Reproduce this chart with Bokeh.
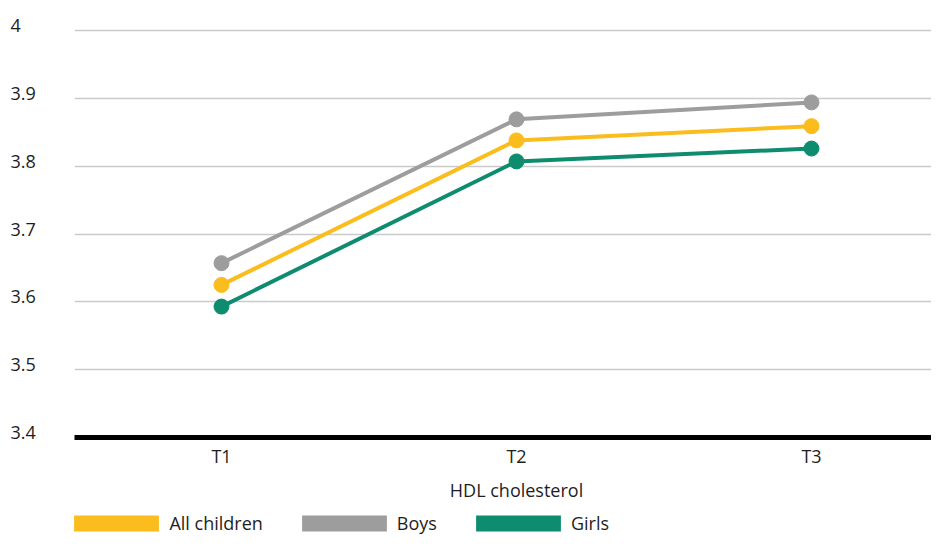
from bokeh.plotting import figure
from bokeh.layouts import row, column
from bokeh.models import Range1d, FixedTicker, Legend, LegendItem, Label
from bokeh.embed import file_html
from bokeh.resources import INLINE

# ---- data ----
periods = ["T1", "T2", "T3"]
period_pos = [1, 2, 3]
all_children = [3.625, 3.838, 3.859]
boys = [3.657, 3.869, 3.894]
girls = [3.593, 3.807, 3.826]
y_ticks = [3.4, 3.5, 3.6, 3.7, 3.8, 3.9, 4.0]
y_tick_labels = ["3.4", "3.5", "3.6", "3.7", "3.8", "3.9", "4"]
x_title = "HDL cholesterol"
series_names = ["All children", "Boys", "Girls"]
series_colors = ["#FBBC1E", "#9D9D9D", "#0E8C6F"]
series_values = [all_children, boys, girls]

# ---- layout constants (pixels) ----
FONT = "Open Sans"
FS = "18px"
TXT = "#1e1e1e"
TOTAL_W, TOTAL_H = 931, 536
LEFT_W = 74                 # width of the y-label column
MAIN_H = 470                # height of main chart figure
TOP_PAD = 28                # canvas top -> frame top
Y_LO, Y_HI = 3.4, 4.0
PX_PER_UNIT = 407 / (Y_HI - Y_LO)
Y_TOP_EXTRA = 2 / PX_PER_UNIT          # keep top gridline fully visible
FRAME_BOTTOM = TOP_PAD + 409           # = 437
PX_PER_CAT = 295
FIRST_CAT_PX = 147
FRAME_W = TOTAL_W - LEFT_W

# legend swatch: bokeh insets area glyphs by 10% on each side
GLYPH_W, GLYPH_H = 106, 20
INSET_X = 0.1 * GLYPH_W

x_start = period_pos[0] - FIRST_CAT_PX / PX_PER_CAT
x_range = Range1d(x_start, x_start + FRAME_W / PX_PER_CAT)

# ---- main chart ----
p = figure(width=FRAME_W, height=MAIN_H, x_range=x_range,
           y_range=Range1d(Y_LO, Y_HI + Y_TOP_EXTRA),
           output_backend="svg", toolbar_location=None, y_axis_location=None,
           min_border_left=0, min_border_right=0, min_border_top=TOP_PAD,
           min_border_bottom=MAIN_H - FRAME_BOTTOM)
p.outline_line_color = None
p.xgrid.visible = False
p.ygrid.ticker = FixedTicker(ticks=y_ticks)
p.ygrid.grid_line_color = "#cacaca"
p.ygrid.grid_line_width = 1.6

ax = p.xaxis[0]
ax.ticker = FixedTicker(ticks=period_pos)
ax.major_label_overrides = {k: v for k, v in zip(period_pos, periods)}
ax.axis_line_color = "black"
ax.axis_line_width = 5
ax.major_tick_line_color = None
ax.major_tick_out = 0
ax.major_tick_in = 0
ax.minor_tick_line_color = None
ax.major_label_standoff = 6
ax.major_label_text_font = FONT
ax.major_label_text_font_size = FS
ax.major_label_text_color = TXT

for name, vals, col in zip(series_names, series_values, series_colors):
    p.line(period_pos, vals, line_color=col, line_width=4)
    p.scatter(period_pos, vals, size=15, fill_color=col, line_color=col)

# ---- y tick labels column (left aligned, like the reference) ----
k = 1 / PX_PER_UNIT
ylab = figure(width=LEFT_W, height=TOTAL_H, x_range=Range1d(0, LEFT_W),
              y_range=Range1d(Y_LO - (TOTAL_H - FRAME_BOTTOM) * k, Y_HI + TOP_PAD * k + Y_TOP_EXTRA),
              output_backend="svg", toolbar_location=None,
              x_axis_location=None, y_axis_location=None, min_border=0)
ylab.outline_line_color = None
ylab.grid.visible = False
for v, t in zip(y_ticks, y_tick_labels):
    ylab.add_layout(Label(x=0, y=v, text=t, x_offset=10, y_offset=5,
                          text_align="left", text_baseline="middle",
                          text_font=FONT, text_font_size=FS, text_color=TXT))

# ---- axis title + legend strip ----
LEG_H = TOTAL_H - MAIN_H
leg = figure(width=FRAME_W, height=LEG_H, x_range=x_range, y_range=Range1d(0, LEG_H),
             output_backend="svg", toolbar_location=None,
             x_axis_location=None, y_axis_location=None, min_border=0)
leg.outline_line_color = None
leg.grid.visible = False
leg.add_layout(Label(x=period_pos[1], y=LEG_H - 19, text=x_title,
                     text_align="center", text_baseline="middle",
                     text_font=FONT, text_font_size=FS, text_color=TXT))

nan = float("nan")
items = []
for name, col in zip(series_names, series_colors):
    # legend swatch renderer: a single undrawn (NaN) quad that carries the colour
    q = leg.quad(left=[nan], right=[nan], top=[nan], bottom=[nan], fill_color=col, line_color=None)
    items.append(LegendItem(label=name, renderers=[q], index=0))
legend = Legend(items=items, orientation="horizontal", location=(-INSET_X, 1),
                glyph_width=GLYPH_W, glyph_height=GLYPH_H, label_height=16,
                label_standoff=0, spacing=28,
                padding=0, margin=0,
                border_line_color=None, background_fill_alpha=0,
                label_text_font=FONT, label_text_font_size=FS, label_text_color=TXT)
leg.add_layout(legend, "center")

layout = row(ylab, column(p, leg, spacing=0), spacing=0)
open("out.html", "w").write(file_html(layout, INLINE))
